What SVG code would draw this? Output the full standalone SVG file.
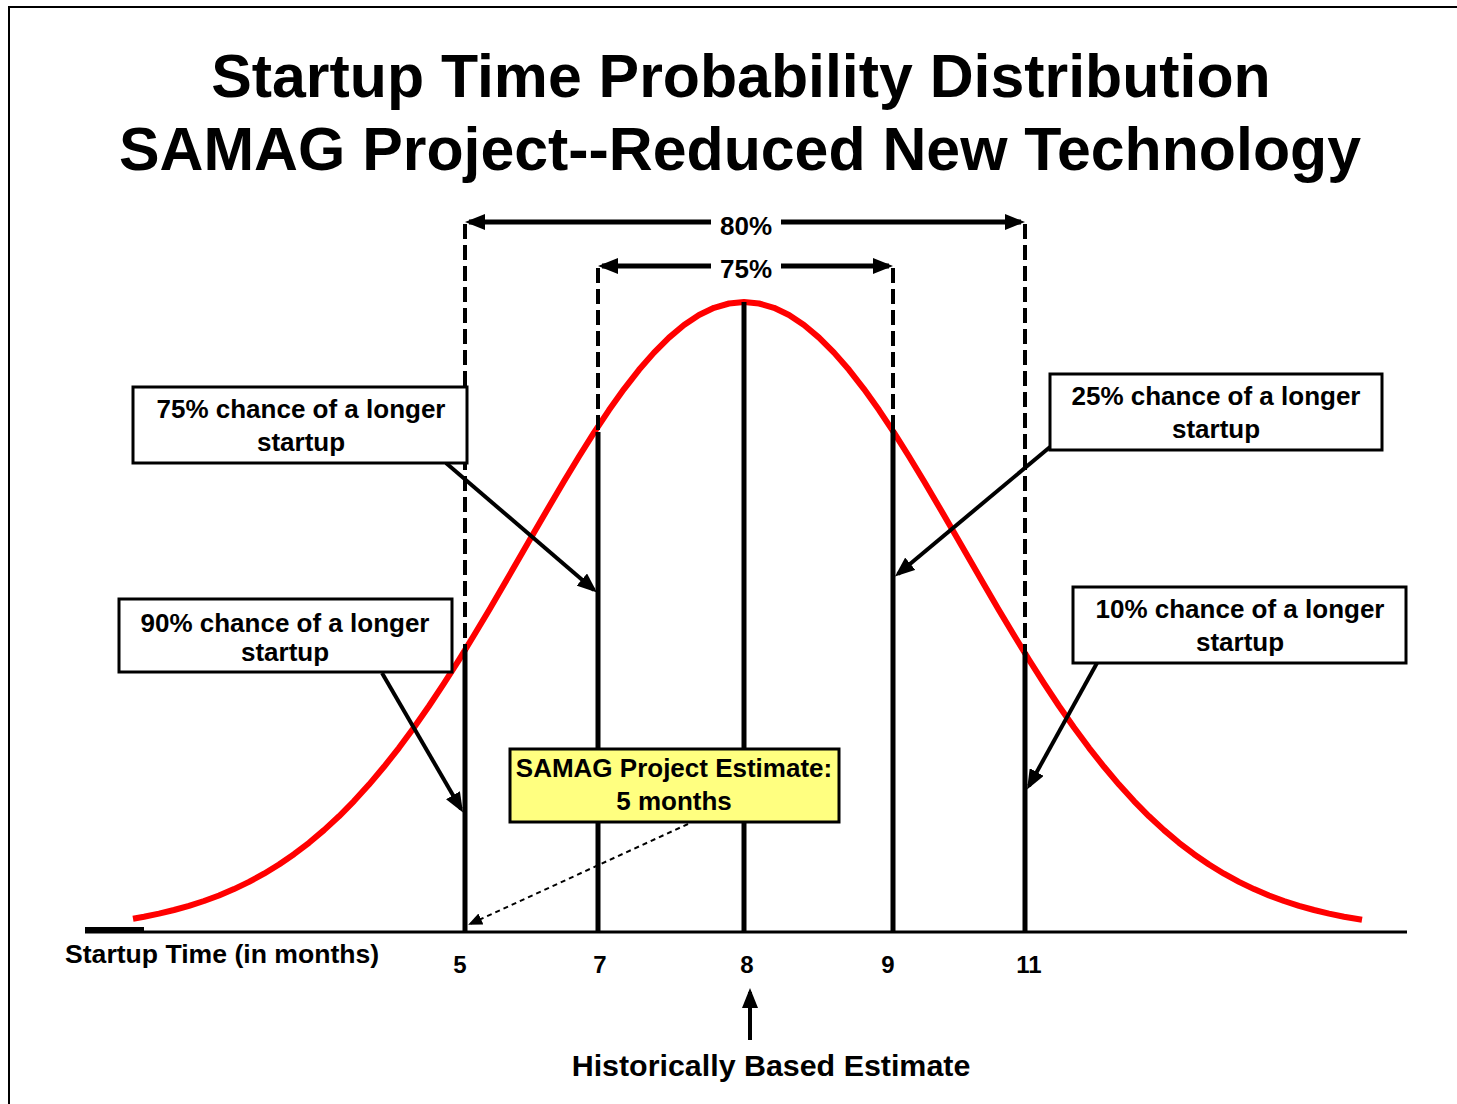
<svg xmlns="http://www.w3.org/2000/svg" width="1457" height="1104" viewBox="0 0 1457 1104">
<style>
text{font-family:"Liberation Sans",Arial,sans-serif;font-weight:bold;fill:#000}
.title{font-size:60.8px;text-anchor:middle}
.lbl{font-size:26px;text-anchor:middle}
.tick{font-size:24px;text-anchor:middle}
.box{fill:#fff;stroke:#000;stroke-width:3}
.ybox{fill:#ffff80;stroke:#000;stroke-width:3}
.dash{stroke:#000;stroke-width:4;stroke-dasharray:15 6;fill:none}
.solid{stroke:#000;stroke-width:5;fill:none}
.arr{stroke:#000;stroke-width:4;fill:none;marker-end:url(#ah)}
.brk{stroke:#000;stroke-width:5;fill:none;marker-end:url(#ah)}
</style>
<defs>
<marker id="ah" viewBox="0 0 20 16" refX="16" refY="8" markerWidth="20" markerHeight="16" markerUnits="userSpaceOnUse" orient="auto"><path d="M0,0 L20,8 L0,16 z" fill="#000"/></marker>
<marker id="ahs" viewBox="0 0 14 12" refX="12" refY="6" markerWidth="14" markerHeight="12" markerUnits="userSpaceOnUse" orient="auto"><path d="M0,0 L14,6 L0,12 z" fill="#000"/></marker>
</defs>
<rect width="1457" height="1104" fill="#fff"/>
<path d="M9,1104 V7 H1457" fill="none" stroke="#000" stroke-width="2"/>
<g id="title">
<text class="title" x="741" y="97">Startup Time Probability Distribution</text>
<text class="title" x="740" y="170">SAMAG Project--Reduced New Technology</text>
</g>
<g id="axis">
<line x1="85" y1="932" x2="1407" y2="932" stroke="#000" stroke-width="3"/>
<rect x="85" y="927" width="59" height="6" fill="#000"/>
<text style="font-size:26.6px" x="65" y="963">Startup Time (in months)</text>
<text class="tick" x="460" y="973">5</text>
<text class="tick" x="600" y="973">7</text>
<text class="tick" x="747" y="973">8</text>
<text class="tick" x="888" y="973">9</text>
<text class="tick" x="1029" y="973">11</text>
</g>
<g id="curve">
<polyline fill="none" stroke="#ff0000" stroke-width="6" stroke-linejoin="round" points="133,918.7 144,916.7 159,913.6 174,910 189,905.9 204,901 219,895.5 234,889.1 249,881.9 264,873.7 279,864.5 294,854.2 309,842.8 324,830.1 339,816.3 354,801.1 369,784.6 384,766.8 399,747.8 414,727.5 429,706 444,683.4 459,659.8 474,635.3 489,610.2 504,584.5 519,558.6 534,532.5 549,506.7 564,481.2 579,456.5 594,432.7 609,410.1 624,389.1 639,369.8 654,352.6 669,337.6 684,325 699,315 714,307.8 729,303.5 744,302 759,303.5 774,307.8 789,315 804,325 819,337.6 834,352.6 849,369.8 864,389.1 879,410.1 894,432.7 909,456.5 924,481.2 939,506.7 954,532.5 969,558.6 984,584.5 999,610.2 1014,635.3 1029,659.8 1044,683.4 1059,706 1074,727.5 1089,747.8 1104,766.8 1119,784.6 1134,801.1 1149,816.3 1164,830.1 1179,842.8 1194,854.2 1209,864.5 1224,873.7 1239,881.9 1254,889.1 1269,895.5 1284,901 1299,905.9 1314,910 1329,913.6 1344,916.7 1362,919.8"/>
</g>
<g id="connectors">
<line class="dash" x1="465" y1="224" x2="465" y2="650"/>
<line class="dash" x1="1025" y1="224" x2="1025" y2="652"/>
<line class="dash" x1="598" y1="268" x2="598" y2="432"/>
<line class="dash" x1="893" y1="268" x2="893" y2="430"/>
<line class="solid" x1="465" y1="650" x2="465" y2="932"/>
<line class="solid" x1="598" y1="432" x2="598" y2="932"/>
<line class="solid" x1="744" y1="302" x2="744" y2="932"/>
<line class="solid" x1="893" y1="430" x2="893" y2="932"/>
<line class="solid" x1="1025" y1="652" x2="1025" y2="932"/>
<line class="brk" x1="711" y1="222" x2="469" y2="222"/>
<line class="brk" x1="781" y1="222" x2="1021" y2="222"/>
<line class="brk" x1="711" y1="266" x2="602" y2="266"/>
<line class="brk" x1="781" y1="266" x2="889" y2="266"/>
<line class="arr" x1="446" y1="463" x2="594" y2="590"/>
<line class="arr" x1="382" y1="673" x2="461" y2="809"/>
<line class="arr" x1="1050" y1="447" x2="898" y2="574"/>
<line class="arr" x1="1097" y1="663" x2="1029" y2="786"/>
<line x1="688" y1="824" x2="470" y2="924" stroke="#000" stroke-width="2" stroke-dasharray="5 4" marker-end="url(#ahs)"/>
<line class="arr" x1="750" y1="1040" x2="750" y2="992"/>
</g>
<g id="label-80">
<text class="lbl" x="746" y="235">80%</text>
</g>
<g id="label-75">
<text class="lbl" x="746" y="278">75%</text>
</g>
<g id="box-75">
<rect class="box" x="133" y="387" width="334" height="76"/>
<text class="lbl" x="301" y="418">75% chance of a longer</text>
<text class="lbl" x="301" y="451">startup</text>
</g>
<g id="box-90">
<rect class="box" x="119" y="599" width="333" height="73"/>
<text class="lbl" x="285" y="632">90% chance of a longer</text>
<text class="lbl" x="285" y="661">startup</text>
</g>
<g id="box-25">
<rect class="box" x="1050" y="374" width="332" height="76"/>
<text class="lbl" x="1216" y="405">25% chance of a longer</text>
<text class="lbl" x="1216" y="438">startup</text>
</g>
<g id="box-10">
<rect class="box" x="1073" y="587" width="333" height="76"/>
<text class="lbl" x="1240" y="618">10% chance of a longer</text>
<text class="lbl" x="1240" y="651">startup</text>
</g>
<g id="box-estimate">
<rect class="ybox" x="510" y="749" width="329" height="73"/>
<text class="lbl" x="674" y="777">SAMAG Project Estimate:</text>
<text class="lbl" x="674" y="810">5 months</text>
</g>
<g id="historical">
<text style="font-size:30.4px;text-anchor:middle" x="771" y="1076">Historically Based Estimate</text>
</g>
</svg>
